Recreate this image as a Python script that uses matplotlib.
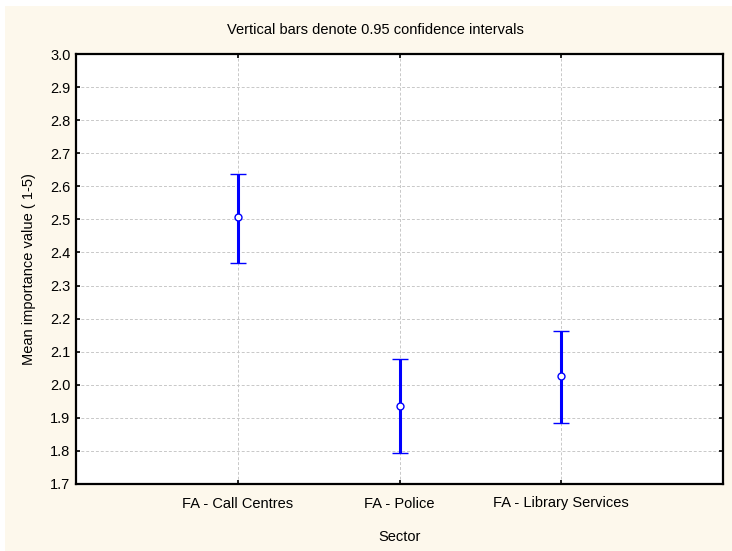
import matplotlib
matplotlib.use("Agg")
import matplotlib.pyplot as plt
from matplotlib.patches import Rectangle
from matplotlib.ticker import MultipleLocator, FormatStrFormatter

# Sector means with 0.95 confidence limits
sectors = ["FA - Call Centres", "FA - Police", "FA - Library Services"]
means = [2.507, 1.937, 2.028]
lower = [2.368, 1.795, 1.883]
upper = [2.637, 2.078, 2.164]

plt.rcParams["font.family"] = ["Liberation Sans", "DejaVu Sans"]
FS = 10.5

W, H = 732, 551
fig = plt.figure(figsize=(W / 100, H / 100), dpi=100, facecolor="white")
# cream panel behind the plot
fig.patches.append(Rectangle((5 / W, 0), 1, 1 - 6 / H, transform=fig.transFigure,
                             facecolor="#fdf8ec", edgecolor="none", zorder=-10))

ax = fig.add_axes([76 / W, 1 - 484 / H, (723 - 76) / W, (484 - 54) / H])
ax.set_facecolor("white")

x = list(range(1, len(sectors) + 1))
yerr = [[m - lo for m, lo in zip(means, lower)], [hi - m for m, hi in zip(means, upper)]]
ax.errorbar(x, means, yerr=yerr, fmt="o", color="#0000ff", ecolor="#0000ff",
            elinewidth=2.2, capsize=5.8, capthick=2.4, markersize=5,
            markerfacecolor="white", markeredgecolor="#0000ff", markeredgewidth=1.0,
            zorder=3)

ax.set_xlim(0, len(sectors) + 1)
ax.set_ylim(1.7, 3.0)
ax.set_xticks(x)
ax.set_xticklabels(sectors, fontsize=FS)
ax.yaxis.set_major_locator(MultipleLocator(0.1))
ax.yaxis.set_major_formatter(FormatStrFormatter("%.1f"))
ax.tick_params(axis="y", labelsize=FS)
ax.tick_params(direction="in", length=3, width=1.2, top=True, right=True,
               color="black", pad=4)
ax.tick_params(axis="x", pad=9)

ax.grid(True, color="#c8c8c8", linestyle=(0, (3, 2)), linewidth=0.7)
ax.set_axisbelow(True)
for s in ax.spines.values():
    s.set_linewidth(1.6)
    s.set_color("black")

ax.set_xlabel("Sector", fontsize=FS, labelpad=14)
ax.set_ylabel("Mean importance value ( 1-5)", fontsize=FS, labelpad=10)
fig.text(375 / W, 1 - 30 / H, "Vertical bars denote 0.95 confidence intervals",
         ha="center", va="center", fontsize=FS)

fig.savefig("out.png", dpi=100, facecolor=fig.get_facecolor())
